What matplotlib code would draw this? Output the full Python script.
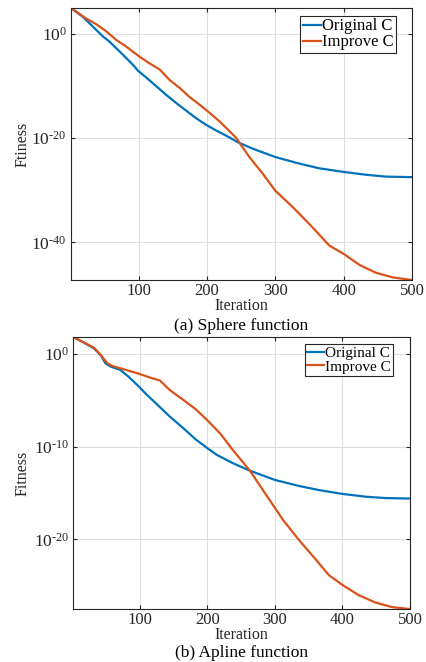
import matplotlib
matplotlib.use("Agg")
import matplotlib.pyplot as plt
import numpy as np

plt.rcParams["font.family"] = ["Liberation Serif", "DejaVu Serif"]
plt.rcParams["mathtext.fontset"] = "custom"
plt.rcParams["mathtext.rm"] = "Liberation Serif"
plt.rcParams["mathtext.it"] = "Liberation Serif:italic"

BLUE = "#0072BD"
ORANGE = "#D95319"
AX_COLOR = "#262626"
GRID_COLOR = "#DEDEDE"

# (a) Sphere function: iteration, log10(fitness)
sphere_orig_it = [1, 18, 28, 38, 48, 57, 72, 87, 94, 99, 111, 126, 140, 155, 170, 184, 199, 214, 228,
                  245, 267, 300, 335, 364, 400, 433, 462, 500]
sphere_orig_lg = [4.9, 3.25, 2.0, 0.7, -0.57, -1.5, -3.4, -5.35, -6.3, -7.1, -8.4, -10.1, -11.7, -13.3,
                  -14.8, -16.2, -17.5, -18.6, -19.55, -20.8, -22.05, -23.65, -24.9, -25.8, -26.5,
                  -27.05, -27.4, -27.5]
sphere_impr_it = [1, 23, 38, 53, 67, 82, 101, 116, 131, 145, 160, 175, 189, 204, 219, 233, 243, 248,
                  262, 282, 300, 326, 350, 379, 400, 423, 447, 472, 500]
sphere_impr_lg = [4.9, 2.9, 1.8, 0.4, -1.2, -2.5, -4.4, -5.7, -6.9, -8.85, -10.4, -12.2, -13.6, -15.2,
                  -16.9, -18.7, -20.0, -21.0, -23.65, -26.9, -30.1, -33.3, -36.5, -40.6, -42.2, -44.3,
                  -45.8, -46.7, -47.2]

# (b) Apline function
apline_orig_it = [1, 17, 32, 42, 49, 57, 71, 83, 96, 110, 125, 144, 164, 183, 198, 214, 238, 263, 300,
                  336, 366, 400, 434, 464, 500]
apline_orig_lg = [1.8, 1.2, 0.57, -0.14, -1.04, -1.4, -1.75, -2.46, -3.36, -4.4, -5.43, -6.75, -8.0,
                  -9.25, -10.07, -10.9, -11.8, -12.6, -13.6, -14.25, -14.7, -15.1, -15.4, -15.55, -15.6]
apline_impr_it = [1, 17, 32, 42, 52, 59, 76, 96, 115, 130, 144, 164, 183, 199, 219, 238, 263, 287, 312,
                  336, 361, 380, 400, 424, 449, 474, 500]
apline_impr_lg = [1.8, 1.2, 0.64, -0.14, -1.04, -1.32, -1.68, -2.1, -2.57, -2.9, -3.9, -4.96, -6.0,
                  -7.1, -8.6, -10.4, -12.6, -15.2, -17.9, -20.1, -22.2, -23.85, -24.9, -26.0, -26.8,
                  -27.3, -27.5]

x_ticks = [100, 200, 300, 400, 500]
sphere_yticks = [0, -20, -40]
apline_yticks = [0, -10, -20]


def draw_panel(ax, orig_it, orig_lg, impr_it, impr_lg, yticks, ylabel, legend_anchor, legend_fs):
    ax.plot(orig_it, 10.0 ** np.array(orig_lg), color=BLUE, lw=1.6, label="Original C")
    ax.plot(impr_it, 10.0 ** np.array(impr_lg), color=ORANGE, lw=1.6, label="Improve C")
    ax.set_yscale("log")
    ax.set_xlim(1, 500)
    lo = min(min(orig_lg), min(impr_lg))
    hi = max(max(orig_lg), max(impr_lg))
    ax.set_ylim(10.0 ** lo, 10.0 ** hi)
    ax.set_xticks(x_ticks)
    ax.set_xticklabels([str(t) for t in x_ticks], fontsize=12)
    ax.set_yticks([10.0 ** t for t in yticks])
    ax.set_yticklabels([r"$\mathrm{10}^{\text{%d}}$" % t for t in yticks], fontsize=12.5)
    ax.minorticks_off()
    ax.tick_params(direction="in", top=True, right=True, length=3, color=AX_COLOR,
                   labelcolor=AX_COLOR, pad=3)
    ax.tick_params(axis="x", pad=2)
    ax.grid(True, color=GRID_COLOR, linewidth=0.8)
    ax.set_axisbelow(True)
    for s in ax.spines.values():
        s.set_color(AX_COLOR)
        s.set_linewidth(0.8)
    ax.set_ylabel(ylabel, fontsize=11.5, color=AX_COLOR)
    ax.yaxis.label.set_va("center")
    ax.set_xlabel("Iteration", fontsize=11.5, color=AX_COLOR)
    ax.xaxis.label.set_va("center")
    leg = ax.legend(loc="upper right", fontsize=legend_fs, fancybox=False, framealpha=1,
                    edgecolor=AX_COLOR, handlelength=1.1, handletextpad=0.05,
                    borderpad=0.15, labelspacing=0.0, borderaxespad=0.0,
                    bbox_to_anchor=legend_anchor)
    leg.get_frame().set_linewidth(0.8)


fig = plt.figure(figsize=(4.27, 6.62), dpi=100)
fig.patch.set_facecolor("white")

ax1 = fig.add_axes([0.166, 0.577, 0.799, 0.411])
draw_panel(ax1, sphere_orig_it, sphere_orig_lg, sphere_impr_it, sphere_impr_lg, sphere_yticks,
           "Ftiness", (0.953, 0.971), 12)
ax1.xaxis.set_label_coords(0.5, -0.097)
ax1.yaxis.set_label_coords(-0.141, 0.5)
ax1.text(0.5, -0.168, "(a) Sphere function", transform=ax1.transAxes, ha="center", va="center",
         fontsize=12.5, color="black")

ax2 = fig.add_axes([0.171, 0.080, 0.789, 0.411])
draw_panel(ax2, apline_orig_it, apline_orig_lg, apline_impr_it, apline_impr_lg, apline_yticks,
           "Fitness", (0.950, 0.974), 11)
ax2.xaxis.set_label_coords(0.5, -0.094)
ax2.yaxis.set_label_coords(-0.151, 0.5)
ax2.text(0.5, -0.163, "(b) Apline function", transform=ax2.transAxes, ha="center", va="center",
         fontsize=12.5, color="black")

fig.savefig("out.png", dpi=100)
